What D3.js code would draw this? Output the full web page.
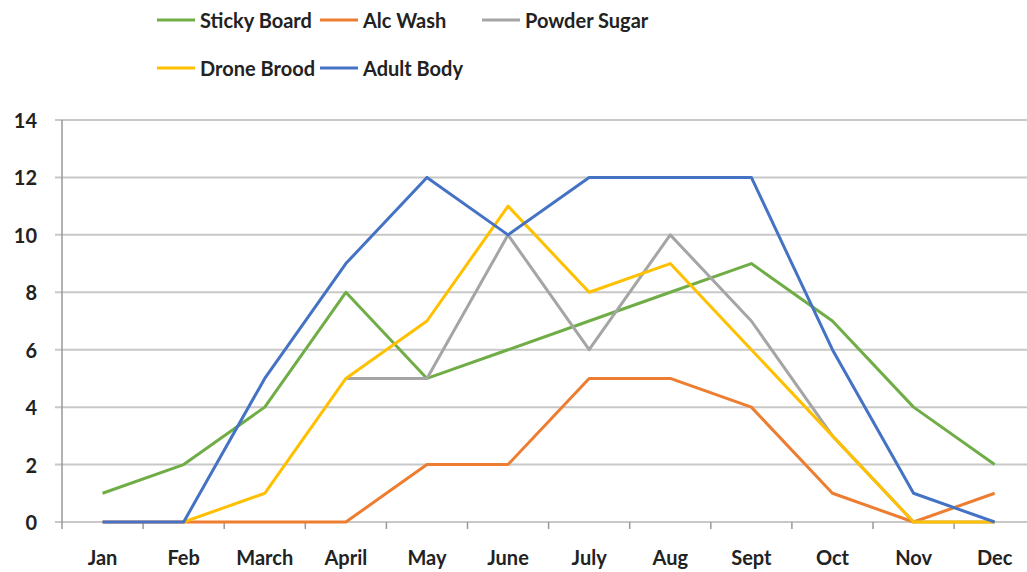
<!DOCTYPE html>
<html>
<head>
<meta charset="utf-8">
<script src="https://cdn.jsdelivr.net/npm/d3@7"></script>
<style>
  body { margin: 0; background: #fff; }
  svg { display: block; font-family: Lato, "Open Sans", sans-serif; font-weight: bold; }
</style>
</head>
<body>
<div id="chart"></div>
<script>
const months = ["Jan", "Feb", "March", "April", "May", "June", "July", "Aug", "Sept", "Oct", "Nov", "Dec"];
const seriesNames = ["Sticky Board", "Alc Wash", "Powder Sugar", "Drone Brood", "Adult Body"];
const seriesColors = ["#70ad47", "#ed7d31", "#a5a5a5", "#ffc000", "#4472c4"];

// null = no value for that month
const stickyBoard = [1, 2, 4, 8, 5, 6, 7, 8, 9, 7, 4, 2];
const alcWash     = [0, 0, 0, 0, 2, 2, 5, 5, 4, 1, 0, 1];
const powderSugar = [null, null, null, 5, 5, 10, 6, 10, 7, 3, 0, 0];
const droneBrood  = [null, 0, 1, 5, 7, 11, 8, 9, 6, 3, 0, 0];
const adultBody   = [0, 0, 5, 9, 12, 10, 12, 12, 12, 6, 1, 0];

const yTicks = [0, 2, 4, 6, 8, 10, 12, 14];

const series = [stickyBoard, alcWash, powderSugar, droneBrood, adultBody];

const width = 1027, height = 572;
const margin = {top: 120, left: 62, bottom: 50};
const bandW = 81.1;

const svg = d3.select("#chart").append("svg")
    .attr("width", width)
    .attr("height", height);

const x = d3.scaleBand()
    .domain(months)
    .range([margin.left, margin.left + bandW * months.length]);

const y = d3.scaleLinear()
    .domain([0, 14])
    .range([height - margin.bottom, margin.top]);

// gridlines
svg.append("g")
    .selectAll("line")
    .data(yTicks)
    .join("line")
        .attr("x1", margin.left - 7)
        .attr("x2", width)
        .attr("y1", d => y(d))
        .attr("y2", d => y(d))
        .attr("stroke", "#c8c8c8")
        .attr("stroke-width", 2);

// y labels
svg.append("g")
    .selectAll("text")
    .data(yTicks)
    .join("text")
        .attr("x", 37)
        .attr("y", d => y(d))
        .attr("text-anchor", "end")
        .attr("dominant-baseline", "central")
        .attr("font-size", 20)
        .attr("fill", "#222")
        .text(d => d);

// y axis line
svg.append("line")
    .attr("x1", margin.left).attr("x2", margin.left)
    .attr("y1", y(14)).attr("y2", y(0) + 7)
    .attr("stroke", "#999")
    .attr("stroke-width", 1.5);

// x tick marks at band boundaries
svg.append("g")
    .selectAll("line")
    .data(months.slice(1))
    .join("line")
        .attr("x1", d => x(d))
        .attr("x2", d => x(d))
        .attr("y1", y(0))
        .attr("y2", y(0) + 7)
        .attr("stroke", "#999")
        .attr("stroke-width", 1.5);

// x labels
svg.append("g")
    .selectAll("text")
    .data(months)
    .join("text")
        .attr("x", d => x(d) + x.bandwidth() / 2)
        .attr("y", 557)
        .attr("text-anchor", "middle")
        .attr("dominant-baseline", "central")
        .attr("font-size", 20)
        .attr("fill", "#222")
        .text(d => d);

// lines
const line = d3.line()
    .defined(d => d.v !== null)
    .x(d => x(d.m) + x.bandwidth() / 2)
    .y(d => y(d.v));

svg.append("g")
    .selectAll("path")
    .data(series)
    .join("path")
        .attr("d", s => line(s.map((v, i) => ({m: months[i], v}))))
        .attr("fill", "none")
        .attr("stroke", (_, i) => seriesColors[i])
        .attr("stroke-width", 3)
        .attr("stroke-linejoin", "round");

// legend
const legendPos = [
    {x: 157, y: 20}, {x: 320, y: 20}, {x: 482, y: 20},
    {x: 157, y: 68}, {x: 320, y: 68}
];

const legend = svg.append("g")
    .selectAll("g")
    .data(seriesNames)
    .join("g")
        .attr("transform", (_, i) => `translate(${legendPos[i].x},${legendPos[i].y})`);

legend.append("line")
    .attr("x1", 0).attr("x2", 38)
    .attr("stroke", (_, i) => seriesColors[i])
    .attr("stroke-width", 3);

legend.append("text")
    .attr("x", 43)
    .attr("dominant-baseline", "central")
    .attr("font-size", 20)
    .attr("fill", "#222")
    .text(d => d);
</script>
</body>
</html>
